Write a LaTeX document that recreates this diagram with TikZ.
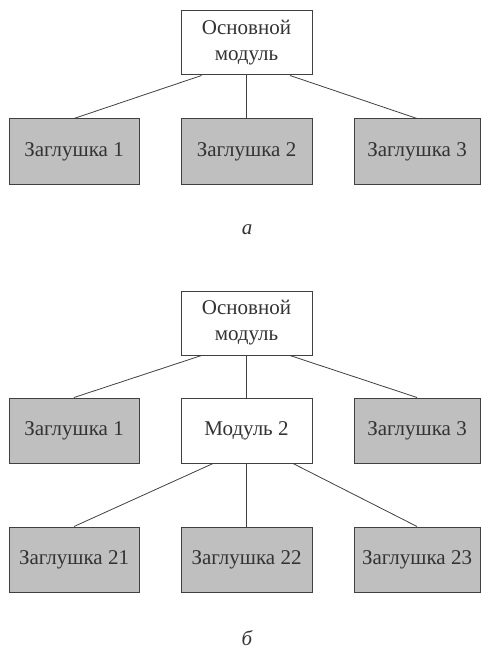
\documentclass[tikz,border=0pt]{standalone}
\usepackage{fontspec}
\setmainfont{Liberation Serif}
\begin{document}
\begin{tikzpicture}[x=1pt,y=-1pt,
  every node/.style={font=\fontsize{21}{26}\selectfont, text=black!80, inner sep=0pt, align=center},
  mainbox/.style={draw=black!75, line width=1pt, fill=white, minimum width=131pt, minimum height=64pt},
  stubbox/.style={draw=black!75, line width=1pt, fill=black!25, minimum width=130pt, minimum height=65pt},
  link/.style={draw=black!75, line width=0.8pt},
  caption/.style={font=\fontsize{21}{24}\selectfont\itshape}]
\useasboundingbox (0,0) rectangle (480,650);
% ---- a ----
\node[mainbox] (ta) at (246.5,43) {Основной\\модуль};
\node[stubbox] (a1) at (74,151.5) {Заглушка 1};
\node[stubbox, minimum width=131pt] (a2) at (246.5,151.5) {Заглушка 2};
\node[stubbox, minimum width=126pt] (a3) at (417,151.5) {Заглушка 3};
\draw[link] ([xshift=-45pt]ta.south) -- (a1.north);
\draw[link] (ta.south) -- (a2.north);
\draw[link] ([xshift=43.5pt]ta.south) -- (a3.north);
\node[caption] (capa) at (247,230) {а};
% ---- б ----
\node[mainbox] (tb) at (246.5,323) {Основной\\модуль};
\node[stubbox] (b1) at (74,430.5) {Заглушка 1};
\node[mainbox, minimum height=65pt] (b2) at (246.5,430.5) {Модуль 2};
\node[stubbox, minimum width=126pt] (b3) at (417,430.5) {Заглушка 3};
\draw[link] ([xshift=-45pt]tb.south) -- (b1.north);
\draw[link] (tb.south) -- (b2.north);
\draw[link] ([xshift=43.5pt]tb.south) -- (b3.north);
\node[stubbox] (c1) at (74,559.5) {Заглушка 21};
\node[stubbox, minimum width=131pt] (c2) at (246.5,559.5) {Заглушка 22};
\node[stubbox, minimum width=126pt] (c3) at (417,559.5) {Заглушка 23};
\draw[link] ([xshift=-33.5pt]b2.south) -- (c1.north);
\draw[link] (b2.south) -- (c2.north);
\draw[link] ([xshift=46.5pt]b2.south) -- (c3.north);
\node[caption] (capb) at (247,638) {б};
\end{tikzpicture}
\end{document}
